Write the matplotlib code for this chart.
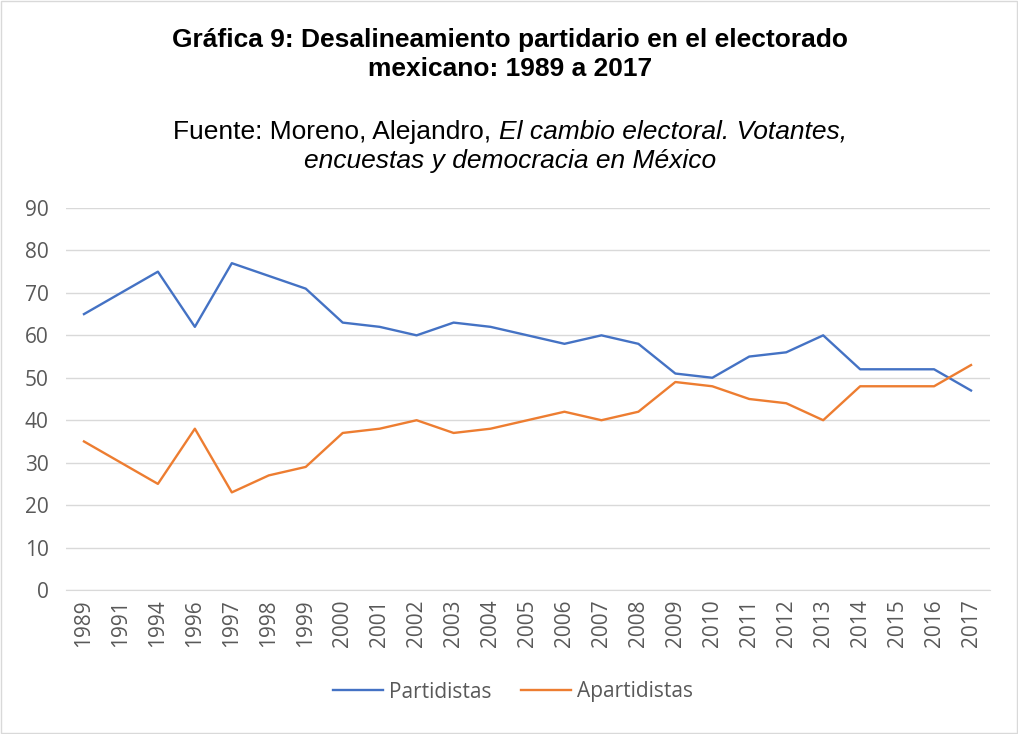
import matplotlib
matplotlib.use('Agg')
import matplotlib.pyplot as plt
from matplotlib.patches import Rectangle

# datos
anios = ['1989', '1991', '1994', '1996', '1997', '1998', '1999', '2000', '2001', '2002',
         '2003', '2004', '2005', '2006', '2007', '2008', '2009', '2010', '2011', '2012',
         '2013', '2014', '2015', '2016', '2017']
partidistas = [65, 70, 75, 62, 77, 74, 71, 63, 62, 60, 63, 62, 60, 58, 60, 58,
               51, 50, 55, 56, 60, 52, 52, 52, 47]
apartidistas = [35, 30, 25, 38, 23, 27, 29, 37, 38, 40, 37, 38, 40, 42, 40, 42,
                49, 48, 45, 44, 40, 48, 48, 48, 53]
yticks = [0, 10, 20, 30, 40, 50, 60, 70, 80, 90]

W, H = 1018, 734
fuente = ['Open Sans', 'DejaVu Sans']
fig = plt.figure(figsize=(W / 100, H / 100), dpi=100)
fig.patches.append(Rectangle((0.001, 0.001), 0.998, 0.998, transform=fig.transFigure,
                             fill=False, edgecolor='#d9d9d9', linewidth=1))

ax = fig.add_axes([65.5 / W, 144 / H, 924 / W, 382 / H])
x = list(range(len(anios)))
ax.plot(x, partidistas, color='#4472C4', linewidth=1.7, label='Partidistas')
ax.plot(x, apartidistas, color='#ED7D31', linewidth=1.7, label='Apartidistas')

ax.set_xlim(-0.5, len(anios) - 0.5)
ax.set_ylim(0, 90)
ax.set_yticks(yticks)
ax.set_xticks(x)
ax.set_xticklabels(anios, rotation=90)
for lab in ax.get_xticklabels() + ax.get_yticklabels():
    lab.set_fontfamily(fuente)
    lab.set_fontsize(15)
    lab.set_color('#595959')
ax.tick_params(axis='y', length=0, pad=12)
ax.tick_params(axis='x', length=0, pad=7)
ax.grid(axis='y', color='#d9d9d9', linewidth=1)
ax.set_axisbelow(True)
for s in ['top', 'right', 'left']:
    ax.spines[s].set_visible(False)
ax.spines['bottom'].set_color('#d9d9d9')

# titulo
fig.text(510 / W, 1 - 40 / H, 'Gráfica 9: Desalineamiento partidario en el electorado',
         ha='center', va='center', fontsize=19, fontweight='bold', family='Liberation Sans')
fig.text(510 / W, 1 - 69 / H, 'mexicano: 1989 a 2017',
         ha='center', va='center', fontsize=19, fontweight='bold', family='Liberation Sans')

# subtitulo con parte en cursiva
renderer = fig.canvas.get_renderer()
t1 = fig.text(0, 1 - 132 / H, 'Fuente: Moreno, Alejandro, ', ha='left', va='center',
              fontsize=19, family='Liberation Sans')
t2 = fig.text(0, 1 - 132 / H, 'El cambio electoral. Votantes,', ha='left', va='center',
              fontsize=19, family='Liberation Sans', style='italic')
w1 = t1.get_window_extent(renderer).width
w2 = t2.get_window_extent(renderer).width
x0 = 510 - (w1 + w2) / 2
t1.set_x(x0 / W)
t2.set_x((x0 + w1) / W)
fig.text(510 / W, 1 - 161 / H, 'encuestas y democracia en México', ha='center', va='center',
         fontsize=19, family='Liberation Sans', style='italic')

leg = fig.legend(loc='center', bbox_to_anchor=(513 / W, 1 - 692 / H), ncol=2, frameon=False,
                 prop={'family': fuente, 'size': 15},
                 handlelength=2.4, handletextpad=0.3, columnspacing=1.4)
for t in leg.get_texts():
    t.set_color('#595959')

fig.savefig('out.png', dpi=100)
